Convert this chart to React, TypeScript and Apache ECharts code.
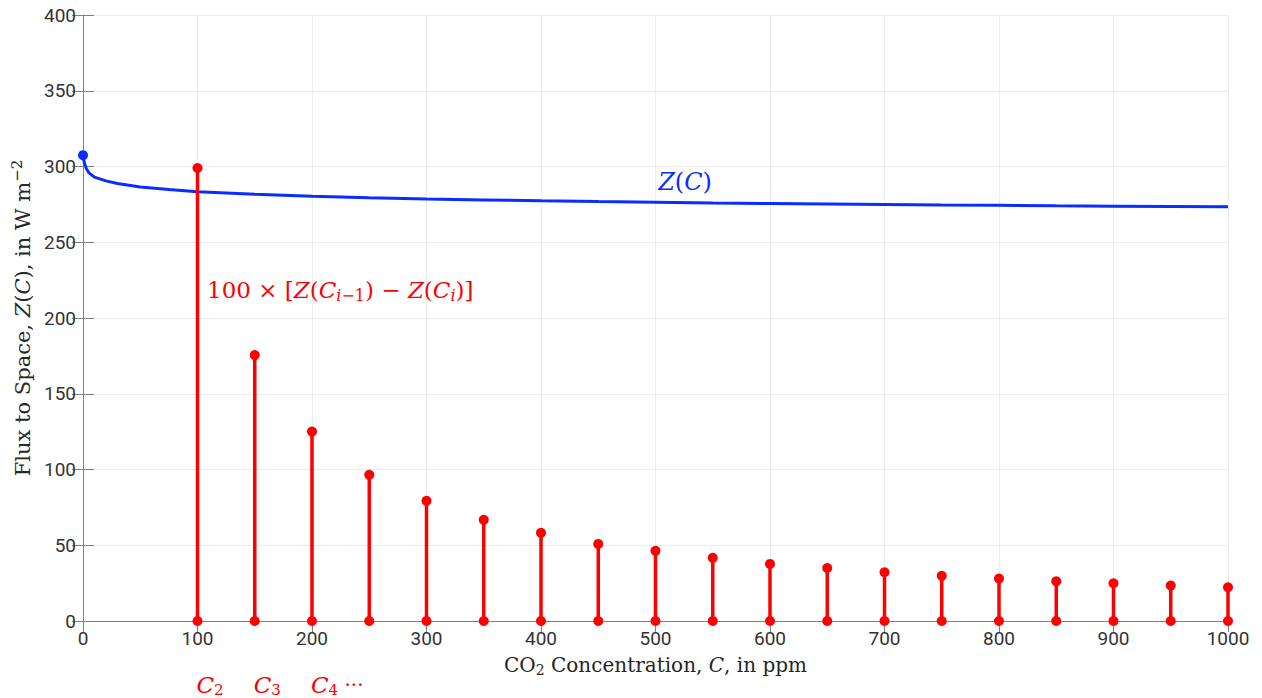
import React, { useEffect, useRef } from "react";
import * as echarts from "echarts";

const stemC = [100, 150, 200, 250, 300, 350, 400, 450, 500, 550, 600, 650, 700, 750, 800, 850, 900, 950, 1000];
const stemValues = [299, 175.5, 125, 96.5, 79.3, 66.8, 58.2, 50.9, 46.3, 41.7, 37.7, 35.0, 32.2, 29.8, 28.0, 26.2, 24.9, 23.4, 22.3];

const curveC = [0, 1, 2, 3, 5, 10, 20, 30, 50, 75, 100, 150, 200, 250, 300, 350, 400, 450, 500, 550, 600, 650, 700, 750, 800, 850, 900, 950, 1000];
const curveZ = [307.5, 303, 300.5, 298.5, 296, 293, 290.5, 288.8, 286.5, 284.8, 283.4, 281.65, 280.4, 279.4, 278.6, 277.95, 277.35, 276.85, 276.4, 275.95, 275.6, 275.25, 274.9, 274.6, 274.35, 274.05, 273.8, 273.55, 273.35];

const xTicks = [0, 100, 200, 300, 400, 500, 600, 700, 800, 900, 1000];
const yTicks = [0, 50, 100, 150, 200, 250, 300, 350, 400];

const cLabelC = [100, 150, 200];
const cLabelSub = ["2", "3", "4"];
const cLabelTail = ["", "", " ···"];

const RED = "#ff0000";
const BLUE = "#0a2cff";
const SERIF = "'DejaVu Serif', 'Liberation Serif', serif";
const SANS = "Roboto, 'Liberation Sans', sans-serif";
const AXIS = "#808080";
const GRIDC = "#ececec";

export default function App() {
  const ref = useRef<HTMLDivElement>(null);
  useEffect(() => {
    const chart = echarts.init(ref.current!, undefined, { renderer: "svg" });
    const curveData = curveC.map((c, i) => [c, curveZ[i]]);
    const stemData = stemC.map((c, i) => [c, stemValues[i]]);
    const axisCommon = {
      type: "value" as const,
      axisLine: { show: true, lineStyle: { color: AXIS, width: 1 } },
      axisTick: { show: true, inside: true, length: 11, lineStyle: { color: AXIS } },
    };
    const makeRich = (fs: number) => ({
      n: { fontFamily: SERIF, fontSize: fs, color: "#262626" },
      it: { fontFamily: SERIF, fontSize: fs, fontStyle: "italic", color: "#262626" },
      sub: { fontFamily: SERIF, fontSize: fs - 6, color: "#262626", padding: [10, 0, 0, 0] },
      sup: { fontFamily: SERIF, fontSize: fs - 6, color: "#262626", padding: [0, 0, 11, 0] },
    });
    chart.setOption({
      animation: false,
      backgroundColor: "#ffffff",
      grid: { left: 83, right: 34, top: 15, bottom: 77 },
      xAxis: [
        {
          ...axisCommon,
          min: 0,
          max: 1000,
          interval: 100,
          position: "bottom",
          axisLabel: { color: "#333", fontFamily: SANS, fontSize: 19, margin: 8, formatter: (v: number) => (xTicks.includes(v) ? String(v) : "") },
          splitLine: { show: true, lineStyle: { color: GRIDC } },
          name: "{n|CO}{sub|2}{n| Concentration, }{it|C}{n|, in ppm}",
          nameLocation: "middle",
          nameGap: 32,
          nameTextStyle: { color: "#262626", rich: makeRich(20) },
        },
        {
          ...axisCommon,
          min: 0,
          max: 1000,
          interval: 100,
          position: "top",
          axisLabel: { show: false },
          splitLine: { show: false },
        },
      ],
      yAxis: [
        {
          ...axisCommon,
          min: 0,
          max: 400,
          interval: 50,
          position: "left",
          axisLabel: { color: "#333", fontFamily: SANS, fontSize: 19, margin: 7, formatter: (v: number) => (yTicks.includes(v) ? String(v) : "") },
          splitLine: { show: true, lineStyle: { color: GRIDC } },
          name: "{n|Flux to Space, }{it|Z}{n|(}{it|C}{n|), in W m}{sup|−2}",
          nameLocation: "middle",
          nameRotate: 90,
          nameGap: 47,
          nameTextStyle: { color: "#262626", rich: makeRich(21) },
        },
        {
          ...axisCommon,
          min: 0,
          max: 400,
          interval: 50,
          position: "right",
          axisLabel: { show: false },
          splitLine: { show: false },
        },
      ],
      series: [
        {
          type: "line",
          data: curveData,
          showSymbol: false,
          symbol: "none",
          lineStyle: { color: BLUE, width: 3 },
          z: 3,
        },
        {
          type: "scatter",
          data: [curveData[0]],
          symbolSize: 10,
          itemStyle: { color: BLUE, opacity: 1 },
          z: 4,
        },
        {
          type: "custom",
          clip: false,
          z: 5,
          data: stemData,
          renderItem: (params: any, api: any) => {
            const x = api.value(0);
            const v = api.value(1);
            const p0 = api.coord([x, 0]);
            const p1 = api.coord([x, v]);
            return {
              type: "group",
              children: [
                { type: "line", shape: { x1: p0[0], y1: p0[1], x2: p1[0], y2: p1[1] }, style: { stroke: RED, lineWidth: 3.5 } },
                { type: "circle", shape: { cx: p0[0], cy: p0[1], r: 5 }, style: { fill: RED } },
                { type: "circle", shape: { cx: p1[0], cy: p1[1], r: 5 }, style: { fill: RED } },
              ],
            };
          },
        },
        {
          type: "custom",
          clip: false,
          z: 6,
          data: cLabelC.map((c, i) => [c, 0, i]),
          renderItem: (params: any, api: any) => {
            const x = api.value(0);
            const i = api.value(2);
            const p = api.coord([x, 0]);
            return {
              type: "text",
              x: p[0] - 1,
              y: p[1] + 64,
              style: {
                text: `{it|C}{sub|${cLabelSub[i]}}` + (cLabelTail[i] ? `{n|${cLabelTail[i]}}` : ""),
                align: "left",
                verticalAlign: "middle",
                fill: RED,
                rich: {
                  it: { fontFamily: SERIF, fontSize: 23, fontStyle: "italic", fill: RED },
                  sub: { fontFamily: SERIF, fontSize: 15, fill: RED, padding: [10, 0, 0, 0] },
                  n: { fontFamily: SERIF, fontSize: 20, fill: RED },
                },
              },
            };
          },
        },
        {
          type: "custom",
          clip: false,
          z: 6,
          data: [[525.8, 289.6]],
          renderItem: (params: any, api: any) => {
            const p = api.coord([api.value(0), api.value(1)]);
            return {
              type: "text",
              x: p[0],
              y: p[1],
              style: {
                text: "{it|Z}{n|(}{it|C}{n|)}",
                align: "center",
                verticalAlign: "middle",
                fill: BLUE,
                rich: {
                  it: { fontFamily: SERIF, fontSize: 24, fontStyle: "italic", fill: BLUE },
                  n: { fontFamily: SERIF, fontSize: 24, fill: BLUE },
                },
              },
            };
          },
        },
        {
          type: "custom",
          clip: false,
          z: 6,
          data: [[108.3, 218.2]],
          renderItem: (params: any, api: any) => {
            const p = api.coord([api.value(0), api.value(1)]);
            return {
              type: "text",
              x: p[0],
              y: p[1],
              style: {
                text: "{n|100 × [}{it|Z}{n|(}{it|C}{subi|i}{sub|−1}{n|) − }{it|Z}{n|(}{it|C}{subi|i}{n|)]}",
                align: "left",
                verticalAlign: "middle",
                fill: RED,
                rich: {
                  n: { fontFamily: SERIF, fontSize: 23, fill: RED },
                  it: { fontFamily: SERIF, fontSize: 23, fontStyle: "italic", fill: RED },
                  sub: { fontFamily: SERIF, fontSize: 16, fill: RED, padding: [10, 0, 0, 0] },
                  subi: { fontFamily: SERIF, fontSize: 16, fontStyle: "italic", fill: RED, padding: [10, 0, 0, 0] },
                },
              },
            };
          },
        },
      ],
    });
    return () => chart.dispose();
  }, []);
  return <div ref={ref} style={{ position: "fixed", left: 0, top: 0, width: 1262, height: 698 }} />;
}
